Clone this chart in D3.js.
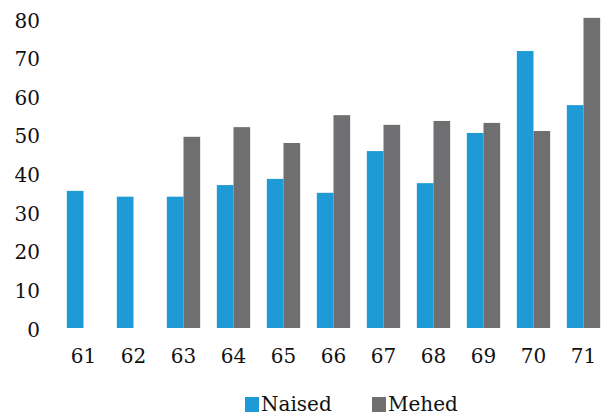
<!DOCTYPE html>
<html><head><meta charset="utf-8">
<script src="https://cdn.jsdelivr.net/npm/d3@7"></script>
<style>body{margin:0;background:#fff}svg{display:block}</style>
</head><body>
<svg id="c" width="604" height="415"></svg>
<script>
const categories = ["61","62","63","64","65","66","67","68","69","70","71"];
const seriesNames = ["Naised","Mehed"];
const naised = [35.5, 34.0, 34.0, 37.0, 38.6, 35.0, 45.8, 37.5, 50.5, 71.7, 57.7];
const mehed  = [null, null, 49.5, 52.0, 47.9, 55.1, 52.6, 53.6, 53.1, 51.0, 80.3];
const yTicks = [0,10,20,30,40,50,60,70,80];
const colors = ["#1e9ad6","#6f6f71"];

const svg = d3.select("#c");
const font = "'DejaVu Serif', serif";
const x = d3.scaleBand().domain(categories).range([58.5, 608.5]).paddingInner(1/3).paddingOuter(1/6);
const xs = d3.scaleBand().domain(seriesNames).range([0, x.bandwidth()]);
const y = d3.scaleLinear().domain([0,80]).range([328, 19]);

const data = [naised, mehed];
seriesNames.forEach((s, si) => {
  svg.append("g").selectAll("rect")
    .data(categories.map((c,i)=>({c, v:data[si][i]})).filter(d=>d.v!=null))
    .join("rect")
    .attr("x", d => x(d.c) + xs(s))
    .attr("width", xs.bandwidth())
    .attr("y", d => y(d.v))
    .attr("height", d => y(0) - y(d.v))
    .attr("fill", colors[si]);
});

const yAxis = svg.append("g").attr("transform","translate(40,0)")
  .call(d3.axisLeft(y).tickValues(yTicks).tickSize(0).tickPadding(0));
yAxis.select(".domain").remove();
yAxis.selectAll("text").attr("font-family", font).attr("font-size", 20).attr("fill","#111").attr("dy","0.4em");

const xAxis = svg.append("g").attr("transform","translate(0,343)")
  .call(d3.axisBottom(x).tickSize(0).tickPadding(0));
xAxis.select(".domain").remove();
xAxis.selectAll("text").attr("font-family", font).attr("font-size", 20).attr("fill","#111").attr("dy","1.0em");

const legend = svg.append("g");
const lx = [245, 372];
seriesNames.forEach((s,i)=>{
  legend.append("rect").attr("x", lx[i]).attr("y", 397).attr("width", 14).attr("height", 15).attr("fill", colors[i]);
  legend.append("text").attr("x", lx[i]+16).attr("y", 411).text(s)
    .attr("font-family", font).attr("font-size", 20).attr("fill","#111");
});
</script>
</body></html>
